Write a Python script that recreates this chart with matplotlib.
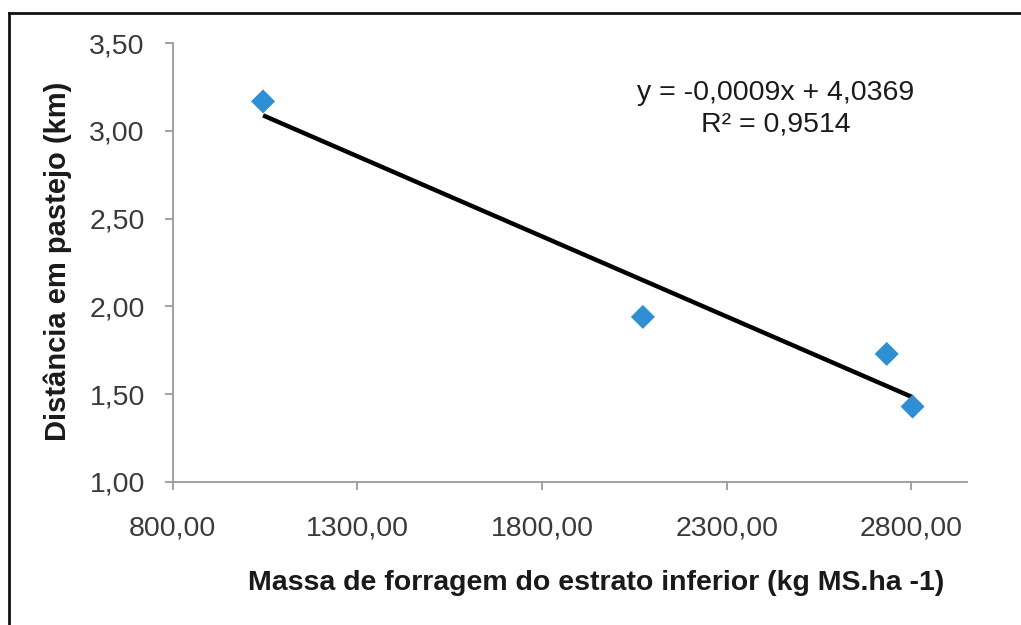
import numpy as np
import matplotlib
matplotlib.use("Agg")
import matplotlib.pyplot as plt
from matplotlib.ticker import FuncFormatter

plt.rcParams['font.family'] = ['Liberation Sans', 'DejaVu Sans']

massa = [1045, 2073, 2733, 2803]
distancia = [3.168, 1.94, 1.729, 1.429]
x_ticks = [800, 1300, 1800, 2300, 2800]
y_ticks = [1.00, 1.50, 2.00, 2.50, 3.00, 3.50]
x_label = "Massa de forragem do estrato inferior (kg MS.ha -1)"
y_label = "Distância em pastejo (km)"
eq_text = "y = -0,0009x + 4,0369\nR² = 0,9514"

fig = plt.figure(figsize=(10.21, 6.25), dpi=100)
ax = fig.add_axes([0.169, 0.229, 0.778, 0.702])

coef = np.polyfit(massa, distancia, 1)
xs = np.array([min(massa), max(massa)])
ax.plot(xs, np.polyval(coef, xs), color='black', lw=3.2, solid_capstyle='butt', zorder=2)
ax.scatter(massa, distancia, marker='D', s=150, color='#2E8FD3', edgecolors='none', zorder=3)

ax.set_xlim(800, 2950)
ax.set_ylim(1.0, 3.5)
ax.set_xticks(x_ticks)
ax.set_yticks(y_ticks)
fmt = FuncFormatter(lambda v, p: f"{v:.2f}".replace('.', ','))
ax.xaxis.set_major_formatter(fmt)
ax.yaxis.set_major_formatter(fmt)

for s in ['top', 'right']:
    ax.spines[s].set_visible(False)
for s in ['left', 'bottom']:
    ax.spines[s].set_color('#9a9a9a')
    ax.spines[s].set_linewidth(1.3)
ax.tick_params(axis='both', colors='#9a9a9a', labelcolor='#3a3a3a', labelsize=20.5, length=6, width=1.3, direction='out')
ax.tick_params(axis='x', pad=18)
ax.tick_params(axis='y', pad=14)

ax.set_xlabel(x_label, fontsize=20.5, fontweight='bold', color='#1a1a1a')
ax.xaxis.set_label_coords(0.533, -0.23)
ax.xaxis.label.set_verticalalignment('center')
ax.set_ylabel(y_label, fontsize=21, fontweight='bold', color='#1a1a1a')
ax.yaxis.set_label_coords(-0.145, 0.503)
ax.yaxis.label.set_verticalalignment('center')

ax.text(2433, 3.125, eq_text, fontsize=20.5, color='#1a1a1a', ha='center', va='center', linespacing=1.3)

# outer frame lines (left and top)
fig.add_artist(plt.Line2D([9/1021, 9/1021], [0, 1 - 12.5/625], transform=fig.transFigure, color='#111111', lw=2))
fig.add_artist(plt.Line2D([9/1021, 1], [1 - 12.5/625, 1 - 12.5/625], transform=fig.transFigure, color='#111111', lw=2))

fig.savefig("out.png", dpi=100, facecolor='white')
